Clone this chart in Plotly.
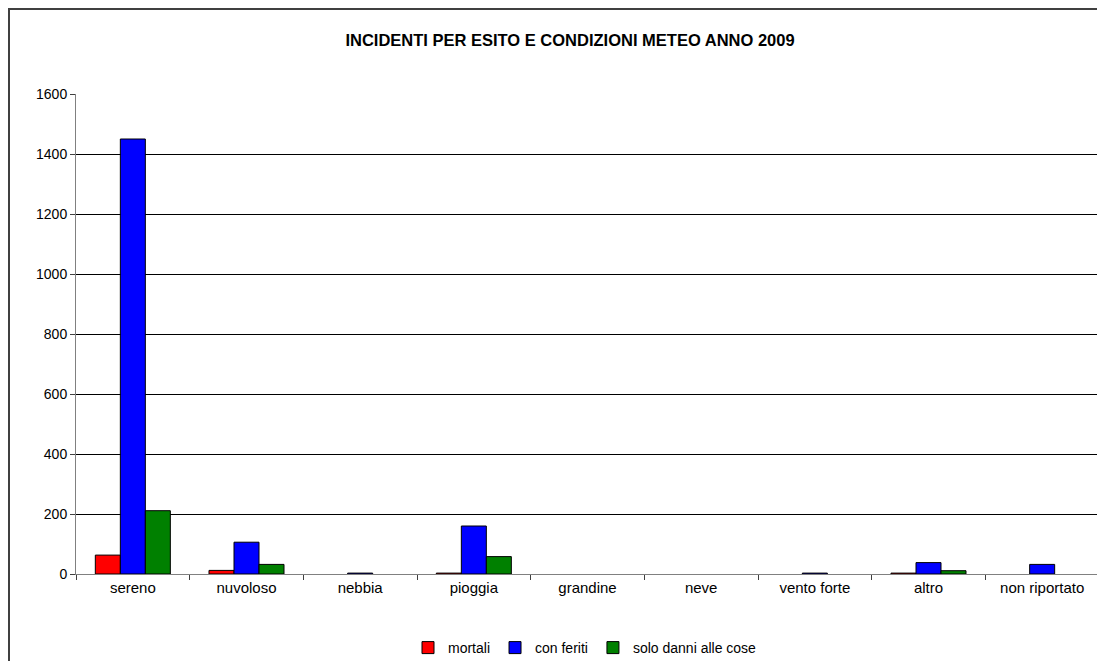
import plotly.graph_objects as go

categories = ["sereno", "nuvoloso", "nebbia", "pioggia", "grandine", "neve",
              "vento forte", "altro", "non riportato"]
mortali = [63, 12, 0, 3, 0, 0, 0, 3, 0]
con_feriti = [1450, 106, 3, 160, 0, 0, 3, 38, 32]
solo_danni = [211, 32, 0, 58, 0, 0, 0, 11, 0]
y_ticks = [0, 200, 400, 600, 800, 1000, 1200, 1400, 1600]

# page has an 8px body margin: figure is placed at (8, 8)
W, H = 1097, 653
L, R, T, B = 68, 6, 86, 87
pw, ph = W - L - R, H - T - B

fig = go.Figure()
series = [("mortali", mortali, "#FF0000"),
          ("con feriti", con_feriti, "#0000FF"),
          ("solo danni alle cose", solo_danni, "#008000")]
for name, vals, col in series:
    widths = [1 if v else 0 for v in vals]
    fig.add_trace(go.Bar(x=categories, y=vals, name=name,
                         marker=dict(color=col, line=dict(color="black", width=widths))))


def px_x(px):
    return (px - L) / pw


def px_y(py):
    return (H - B - py) / ph


# chart-area border (left and top edges visible; others run off the page)
border = dict(color="#404040", width=2)
fig.add_shape(type="line", xref="paper", yref="paper",
              x0=px_x(1), x1=px_x(1), y0=px_y(H + 20), y1=px_y(1), line=border)
fig.add_shape(type="line", xref="paper", yref="paper",
              x0=px_x(0), x1=px_x(W + 20), y0=px_y(1), y1=px_y(1), line=border)

fig.update_layout(
    width=W, height=H,
    margin=dict(l=L, r=R, t=T, b=B, autoexpand=False),
    paper_bgcolor="white", plot_bgcolor="white",
    barmode="group", bargap=0.34, bargroupgap=0,
    font=dict(family="Liberation Sans, Arial", size=14, color="black"),
    title=dict(text="<b>INCIDENTI PER ESITO E CONDIZIONI METEO ANNO 2009</b>",
               x=px_x(562), xref="paper", xanchor="center", y=1 - 32 / H, yanchor="middle",
               font=dict(family="Liberation Sans, Arial", size=16.5, color="black")),
    showlegend=True,
    legend=dict(orientation="h", x=px_x(577), xanchor="center", xref="paper",
                y=px_y(640), yanchor="middle", yref="paper",
                font=dict(size=14), itemwidth=30, traceorder="normal",
                bgcolor="rgba(0,0,0,0)"),
    xaxis=dict(showline=True, linecolor="#808080", linewidth=1,
               ticks="outside", tickson="boundaries", ticklen=5, tickcolor="#404040",
               showgrid=False, tickfont=dict(size=15), fixedrange=True),
    yaxis=dict(range=[0, 1600], tickvals=y_ticks, showline=True, linecolor="#808080",
               linewidth=1, ticks="outside", ticklen=5, tickcolor="#404040",
               showgrid=True, gridcolor="black", gridwidth=1, zeroline=False,
               tickfont=dict(size=14)),
)

fig.write_html("out.html")
